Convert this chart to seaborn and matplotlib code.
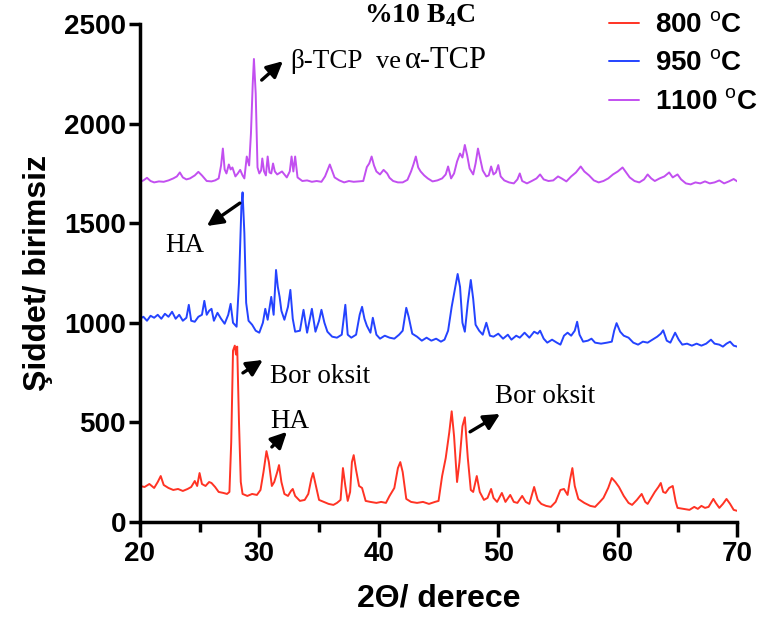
"""
XRD grafikas: %10 B4C, 800 / 950 / 1100 oC
"""
import numpy as np
import pandas as pd
import matplotlib
matplotlib.use('Agg')
import matplotlib.pyplot as plt
import seaborn as sns
from matplotlib.ticker import MultipleLocator

# 800 oC (raudona)
x_800 = [20.0, 20.4, 20.8, 21.2, 21.5, 21.75, 22.0, 22.4, 22.8, 23.2, 23.6, 24.0, 24.3, 24.6, 24.8, 25.0,
         25.2, 25.5, 25.8, 26.0, 26.3, 26.6, 27.0, 27.3, 27.5, 27.65, 27.8, 27.95, 28.05, 28.15, 28.3, 28.45,
         28.6, 29.0, 29.4, 29.8, 30.1, 30.35, 30.6, 30.8, 31.05, 31.25, 31.5, 31.65, 31.85, 32.1, 32.4, 32.65,
         32.8, 33.0, 33.4, 33.8, 34.1, 34.35, 34.5, 34.7, 35.0, 35.4, 35.8, 36.2, 36.5, 36.8, 37.0, 37.2,
         37.4, 37.6, 37.75, 37.9, 38.1, 38.35, 38.6, 38.9, 39.3, 39.8, 40.2, 40.6, 40.9, 41.3, 41.6, 41.8,
         42.0, 42.3, 42.7, 43.2, 43.7, 44.2, 44.7, 45.0, 45.3, 45.6, 45.9, 46.1, 46.3, 46.55, 46.75, 47.0,
         47.2, 47.45, 47.7, 47.9, 48.2, 48.45, 48.8, 49.1, 49.4, 49.6, 49.9, 50.3, 50.6, 51.0, 51.3, 51.6,
         52.0, 52.3, 52.6, 53.0, 53.3, 53.6, 54.0, 54.4, 54.8, 55.2, 55.5, 55.8, 56.0, 56.2, 56.4, 56.7,
         57.2, 57.7, 58.1, 58.5, 58.8, 59.2, 59.5, 59.8, 60.1, 60.5, 60.9, 61.2, 61.6, 62.0, 62.3, 62.5,
         62.8, 63.1, 63.4, 63.6, 63.8, 64.0, 64.3, 64.6, 64.85, 65.0, 65.5, 66.0, 66.4, 66.7, 67.0, 67.3,
         67.6, 68.0, 68.2, 68.5, 68.8, 69.1, 69.4, 69.7, 70.0]
y_800 = [180, 175, 190, 170, 200, 230, 185, 170, 160, 165, 155, 165, 175, 205, 180, 245,
         190, 180, 200, 195, 175, 150, 145, 140, 150, 400, 860, 885, 840, 880, 500, 200,
         140, 130, 140, 135, 160, 250, 355, 300, 180, 200, 250, 285, 200, 140, 130, 155,
         165, 130, 105, 110, 140, 215, 245, 190, 110, 100, 90, 85, 95, 110, 270, 180,
         105, 150, 300, 335, 260, 180, 170, 105, 100, 95, 100, 95, 130, 170, 270, 300,
         250, 115, 100, 95, 100, 90, 100, 105, 230, 320, 450, 555, 430, 200, 300, 480,
         525, 320, 160, 150, 230, 150, 110, 120, 165, 120, 100, 145, 100, 135, 100, 95,
         130, 100, 90, 175, 110, 90, 80, 75, 100, 160, 165, 135, 210, 270, 180, 115,
         95, 80, 75, 100, 120, 170, 220, 200, 175, 130, 95, 85, 110, 140, 100, 90,
         120, 150, 175, 195, 150, 145, 170, 180, 100, 70, 65, 60, 75, 65, 80, 70,
         75, 115, 95, 70, 90, 115, 90, 60, 55]

# 950 oC (mėlyna)
x_950 = [20.0, 20.3, 20.6, 20.9, 21.2, 21.5, 21.8, 22.1, 22.4, 22.7, 23.0, 23.3, 23.6, 23.9, 24.1, 24.3,
         24.6, 24.9, 25.2, 25.4, 25.6, 25.8, 26.0, 26.2, 26.5, 26.8, 27.1, 27.4, 27.6, 27.8, 28.1, 28.3,
         28.5, 28.6, 28.75, 28.9, 29.1, 29.4, 29.7, 30.0, 30.3, 30.5, 30.7, 31.0, 31.2, 31.4, 31.55, 31.7,
         31.85, 32.1, 32.4, 32.6, 32.8, 33.0, 33.4, 33.7, 34.0, 34.4, 34.7, 35.0, 35.2, 35.45, 35.7, 36.1,
         36.5, 36.9, 37.2, 37.4, 37.7, 38.1, 38.4, 38.6, 38.8, 39.0, 39.3, 39.5, 39.8, 40.1, 40.5, 40.9,
         41.3, 41.7, 42.0, 42.3, 42.5, 42.8, 43.2, 43.6, 44.0, 44.4, 44.8, 45.2, 45.5, 45.8, 46.1, 46.4,
         46.6, 46.8, 47.0, 47.2, 47.45, 47.7, 47.9, 48.1, 48.4, 48.7, 49.0, 49.3, 49.6, 50.0, 50.4, 50.8,
         51.1, 51.5, 51.8, 52.2, 52.6, 53.0, 53.3, 53.5, 53.8, 54.1, 54.5, 54.9, 55.2, 55.5, 55.8, 56.1,
         56.4, 56.6, 56.8, 57.1, 57.5, 57.8, 58.1, 58.6, 59.1, 59.5, 59.7, 59.9, 60.2, 60.5, 60.9, 61.3,
         61.7, 62.1, 62.5, 62.9, 63.3, 63.6, 63.8, 64.1, 64.4, 64.6, 64.8, 65.1, 65.4, 65.8, 66.2, 66.6,
         67.0, 67.4, 67.8, 68.1, 68.5, 68.8, 69.1, 69.4, 69.7, 70.0]
y_950 = [1020, 1030, 1010, 1035, 1025, 1040, 1020, 1045, 1030, 1055, 1020, 1040, 1010, 1025, 1090, 1010,
         1005, 1030, 1040, 1110, 1040, 1060, 1070, 1010, 1050, 1020, 995, 1040, 1095, 1000, 980, 1200,
         1580, 1655, 1450, 1100, 1010, 990, 960, 950, 1000, 1070, 1015, 1130, 1040, 1265, 1180, 1130,
         1060, 1015, 1080, 1165, 1020, 955, 960, 1065, 950, 1070, 955, 1010, 1065, 1000, 955, 930,
         925, 940, 1090, 940, 925, 940, 1040, 1080, 1020, 985, 950, 1025, 940, 920, 935, 925,
         920, 940, 960, 1075, 1030, 945, 930, 910, 925, 910, 920, 905, 915, 960, 1080, 1180,
         1245, 1180, 1000, 955, 1100, 1215, 1120, 990, 960, 940, 1000, 935, 930, 945, 920, 940,
         915, 935, 925, 950, 925, 955, 945, 960, 920, 900, 915, 900, 890, 935, 950, 935,
         960, 1005, 940, 905, 910, 920, 900, 895, 900, 905, 960, 998, 955, 935, 925, 900,
         890, 905, 900, 915, 930, 945, 962, 910, 900, 925, 950, 915, 890, 895, 885, 895,
         885, 895, 915, 895, 890, 880, 895, 905, 885, 880]

# 1100 oC (violetinė)
x_1100 = [20.0, 20.3, 20.6, 20.9, 21.2, 21.6, 22.0, 22.4, 22.8, 23.1, 23.35, 23.6, 23.9, 24.2, 24.6, 24.9,
          25.2, 25.6, 26.0, 26.3, 26.6, 26.8, 26.95, 27.1, 27.25, 27.45, 27.6, 27.75, 28.0, 28.2, 28.4, 28.6,
          28.75, 28.95, 29.15, 29.3, 29.45, 29.55, 29.7, 29.85, 30.0, 30.15, 30.25, 30.4, 30.55, 30.7, 30.85, 31.0,
          31.15, 31.3, 31.5, 31.9, 32.3, 32.55, 32.7, 32.85, 33.0, 33.2, 33.6, 34.0, 34.4, 34.8, 35.2, 35.5,
          35.9, 36.3, 36.7, 37.1, 37.5, 37.9, 38.3, 38.7, 39.0, 39.2, 39.4, 39.6, 39.8, 40.1, 40.4, 40.7,
          40.9, 41.2, 41.6, 42.0, 42.4, 42.7, 42.9, 43.1, 43.3, 43.5, 43.8, 44.1, 44.5, 44.9, 45.3, 45.6,
          45.8, 46.05, 46.3, 46.55, 46.8, 47.0, 47.2, 47.4, 47.6, 47.9, 48.1, 48.3, 48.5, 48.7, 49.0, 49.2,
          49.4, 49.6, 49.8, 50.0, 50.2, 50.5, 50.9, 51.3, 51.6, 51.8, 52.0, 52.4, 52.8, 53.2, 53.5, 53.8,
          54.2, 54.6, 55.0, 55.3, 55.7, 56.1, 56.5, 56.9, 57.2, 57.6, 58.0, 58.4, 58.8, 59.2, 59.6, 60.0,
          60.4, 60.7, 61.0, 61.4, 61.8, 62.2, 62.5, 62.8, 63.1, 63.5, 63.9, 64.3, 64.6, 65.0, 65.3, 65.7,
          66.1, 66.5, 66.9, 67.3, 67.7, 68.1, 68.5, 68.9, 69.3, 69.7, 70.0]
y_1100 = [1708, 1715, 1728, 1712, 1705, 1710, 1708, 1715, 1725, 1735, 1755, 1730, 1720, 1725, 1740, 1758,
          1740, 1712, 1710, 1715, 1725, 1790, 1875, 1770, 1750, 1795, 1770, 1780, 1735, 1750, 1768, 1740,
          1725, 1835, 1790, 1950, 2200, 2325, 2150, 1780, 1750, 1765, 1825, 1760, 1740, 1835, 1755, 1750,
          1800, 1760, 1745, 1760, 1730, 1760, 1835, 1760, 1835, 1730, 1712, 1715, 1708, 1712, 1708, 1735,
          1795, 1730, 1715, 1705, 1712, 1708, 1710, 1712, 1782, 1800, 1835, 1790, 1760, 1745, 1768, 1750,
          1728, 1712, 1705, 1705, 1718, 1760, 1795, 1835, 1780, 1760, 1740, 1725, 1710, 1715, 1725, 1745,
          1785, 1725, 1750, 1810, 1850, 1830, 1893, 1840, 1775, 1745, 1800, 1875, 1820, 1765, 1735, 1740,
          1785, 1745, 1755, 1792, 1735, 1715, 1705, 1700, 1720, 1750, 1712, 1700, 1712, 1725, 1745, 1720,
          1712, 1715, 1735, 1725, 1710, 1735, 1755, 1785, 1760, 1740, 1715, 1705, 1712, 1725, 1745, 1760,
          1780, 1755, 1730, 1712, 1705, 1720, 1745, 1725, 1712, 1725, 1735, 1755, 1730, 1745, 1720, 1700,
          1695, 1705, 1700, 1710, 1700, 1705, 1715, 1700, 1710, 1722, 1710]

labels = ['800 $^{\\mathsf{o}}$C', '950 $^{\\mathsf{o}}$C', '1100 $^{\\mathsf{o}}$C']
colors = ['#ff3324', '#2443ff', '#c24ff0']

sns.set_style('ticks')
plt.rcParams['font.family'] = ['Liberation Sans', 'DejaVu Sans']
plt.rcParams['mathtext.fontset'] = 'custom'
plt.rcParams['mathtext.sf'] = 'Liberation Sans'
plt.rcParams['mathtext.bf'] = 'Liberation Serif:bold'
plt.rcParams['text.color'] = 'black'
plt.rcParams['axes.labelcolor'] = 'black'
plt.rcParams['xtick.color'] = 'black'
plt.rcParams['ytick.color'] = 'black'
plt.rcParams['axes.edgecolor'] = 'black'

fig = plt.figure(figsize=(7.64, 6.19), dpi=100)
ax = fig.add_axes([0.183, 0.157, 0.782, 0.804])

series = [(x_800, y_800), (x_950, y_950), (x_1100, y_1100)]
for (xs, ys), lab, col in zip(series, labels, colors):
    df = pd.DataFrame({'theta': xs, 'intensity': ys})
    sns.lineplot(data=df, x='theta', y='intensity', color=col, lw=1.4, ax=ax, label=lab)

ax.set_xlim(20, 70)
ax.set_ylim(0, 2500)
ax.xaxis.set_major_locator(MultipleLocator(10))
ax.xaxis.set_minor_locator(MultipleLocator(5))
ax.yaxis.set_major_locator(MultipleLocator(500))
sns.despine(ax=ax)
for s in ['left', 'bottom']:
    ax.spines[s].set_linewidth(2.5)
ax.tick_params(which='major', length=11, width=2.5, labelsize=20, pad=3)
ax.tick_params(axis='y', which='major', length=8, pad=2)
ax.tick_params(axis='x', which='minor', length=7, width=2.5)
for t in ax.get_xticklabels() + ax.get_yticklabels():
    t.set_fontweight('bold')

ax.set_xlabel('2Θ/ derece', fontsize=23, fontweight='bold', labelpad=12)
ax.set_ylabel('Şiddet/ birimsiz', fontsize=23, fontweight='bold', labelpad=8)

# legenda
handles, labs = ax.get_legend_handles_labels()
ax.get_legend().remove()
fig.legend(handles, labs, loc='upper right', bbox_to_anchor=(1.024, 1.02), frameon=False,
           prop={'size': 20, 'weight': 'bold'}, handlelength=1.1, handletextpad=0.55,
           labelspacing=0.45)

# pavadinimas ir anotacijos
serif = ['Liberation Serif', 'DejaVu Serif']
ax.text(43.4, 2545, '%10 B$_{\\mathbf{4}}$C', fontsize=20, fontweight='bold', family=serif,
        ha='center', va='center', clip_on=False)

arrow = dict(arrowstyle='-|>', color='black', lw=2.4, mutation_scale=24, shrinkA=0, shrinkB=0)
arrows = [
    ((31.98, 2314), (30.2, 2219)),
    ((25.61, 1486), (28.37, 1601)),
    ((30.3, 813), (28.63, 748)),
    ((32.31, 452), (31.05, 376)),
    ((50.15, 542), (47.64, 452)),
]
for head, tail in arrows:
    ax.annotate('', xy=head, xytext=tail, arrowprops=arrow)

# tekstai (x, bazinė linija y, dydis)
notes = [
    ('β-TCP', 32.56, 2279, 19.5),
    ('ve', 39.75, 2279, 19),
    ('α-TCP', 42.2, 2279, 22),
    ('HA', 22.1, 1357, 19.5),
    ('Bor oksit', 30.9, 698, 19.5),
    ('HA', 30.9, 472, 19.5),
    ('Bor oksit', 49.73, 597, 19.5),
]
for txt, xt, yt, fs in notes:
    ax.text(xt, yt, txt, fontsize=fs, family=serif, ha='left', va='baseline')

plt.savefig('out.png', dpi=100)
